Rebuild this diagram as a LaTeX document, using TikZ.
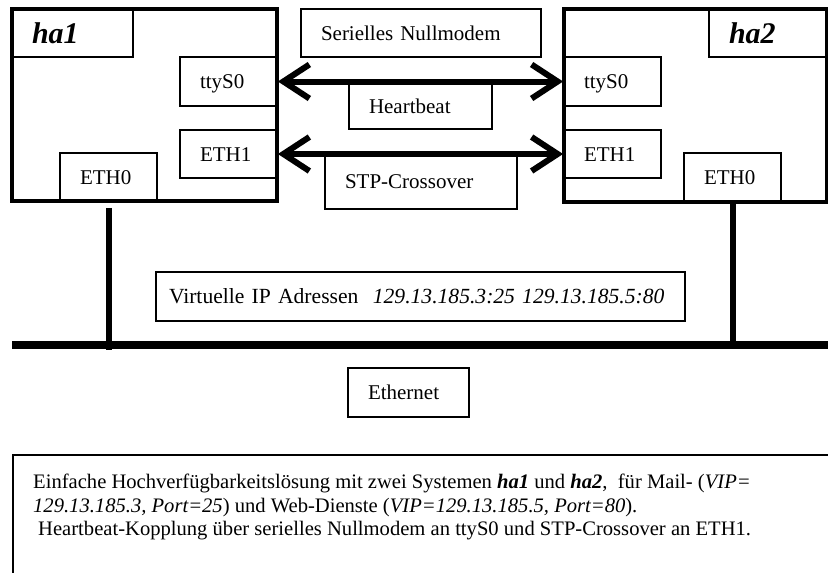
\documentclass[tikz,border=0pt]{standalone}
\usepackage{fontspec}
\setmainfont{Liberation Serif}
\usetikzlibrary{arrows.meta}
\newcommand{\hostfont}{\fontsize{30pt}{32pt}\selectfont\bfseries\itshape}
\newcommand{\boxfont}{\fontsize{21pt}{23pt}\selectfont}
\newcommand{\notefont}{\fontsize{20.6pt}{23.3pt}\selectfont}
\tikzset{
  host/.style={draw, line width=3.5pt, minimum width=265pt, minimum height=192pt},
  infobox/.style={draw, line width=1.8pt, align=left, inner xsep=20pt, inner ysep=0pt,
    text height=14pt, text depth=0pt, minimum height=48pt, font=\boxfont},
  hostname/.style={infobox, font=\hostfont, text height=20pt},
  link/.style={line width=6pt, {Straight Barb[length=26pt,width=34pt]}-{Straight Barb[length=26pt,width=34pt]}},
  wire/.style={line width=6pt},
  bus/.style={line width=8pt}
}

\begin{document}
\begin{tikzpicture}[x=1pt,y=-1pt]
    \useasboundingbox (0,0) rectangle (828,573);

    % host ha1
    \node[host] (ha1) at (144.5,105) {};
    \node[hostname, text width=81pt] (ha1name) at (72.5,33) {ha1};
    \node[infobox, text width=57pt, minimum height=49pt] (ttya) at (228.5,81.5) {ttyS0};
    \node[infobox, text width=57pt] (eth1a) at (228.5,154) {ETH1};
    \node[infobox, text width=57pt] (eth0a) at (108.5,177) {ETH0};

    % host ha2
    \node[host, minimum width=263pt, minimum height=193pt] (ha2) at (695.5,105.5) {};
    \node[hostname, text width=78pt] (ha2name) at (768,33) {ha2};
    \node[infobox, text width=57pt, minimum height=49pt] (ttyb) at (612.5,81.5) {ttyS0};
    \node[infobox, text width=57pt] (eth1b) at (612.5,154) {ETH1};
    \node[infobox, text width=57pt] (eth0b) at (732.5,177) {ETH0};

    % couplings between the hosts
    \node[infobox, line width=1.5pt, text width=200pt] (serial) at (421,33) {Serielles Nullmodem};
    \node[infobox, line width=1.5pt, text width=103pt, minimum height=46pt] (heartbeat) at (420.5,106) {Heartbeat};
    \node[infobox, line width=1.5pt, text width=152pt, minimum height=56pt] (stp) at (421,181) {STP-Crossover};
    \draw[link] (ttya.east) -- (ttyb.west);
    \draw[link] (eth1a.east) -- (eth1b.west);

    % ethernet
    \coordinate (busL) at (12,345);
    \coordinate (busR) at (828,345);
    \draw[bus] (busL) -- (busR);
    \draw[wire] ([yshift=-6pt]eth0a.south) -- ([yshift=-5pt]eth0a.south |- busL);
    \draw[wire] (eth0b.south) -- (eth0b.south |- busR);
    \node[infobox, line width=1.5pt, inner xsep=13pt, text width=503pt, minimum height=49pt,
        font=\fontsize{21.6pt}{23pt}\selectfont] (vip) at (420.5,296.5)
        {Virtuelle IP Adressen~ \textit{129.13.185.3:25 129.13.185.5:80}};
    \node[infobox, line width=1.5pt, text width=81pt, minimum height=49pt] (ethernet) at (408.5,392.5) {Ethernet};

    % description
    \draw[line width=1.5pt] (832,455) -- (13,455) -- (13,577);
    \node[anchor=north west, align=left, inner sep=0pt, font=\notefont] (note) at (33,474)
        {Einfache Hochverfügbarkeitslösung mit zwei Systemen \textbf{\textit{ha1}} und \textbf{\textit{ha2}},~ für Mail- (\textit{VIP=}\\
         \textit{129.13.185.3, Port=25}) und Web-Dienste (\textit{VIP=129.13.185.5, Port=80}).\\
         \hspace{5pt}Heartbeat-Kopplung über serielles Nullmodem an ttyS0 und STP-Crossover an ETH1.};
\end{tikzpicture}
\end{document}
